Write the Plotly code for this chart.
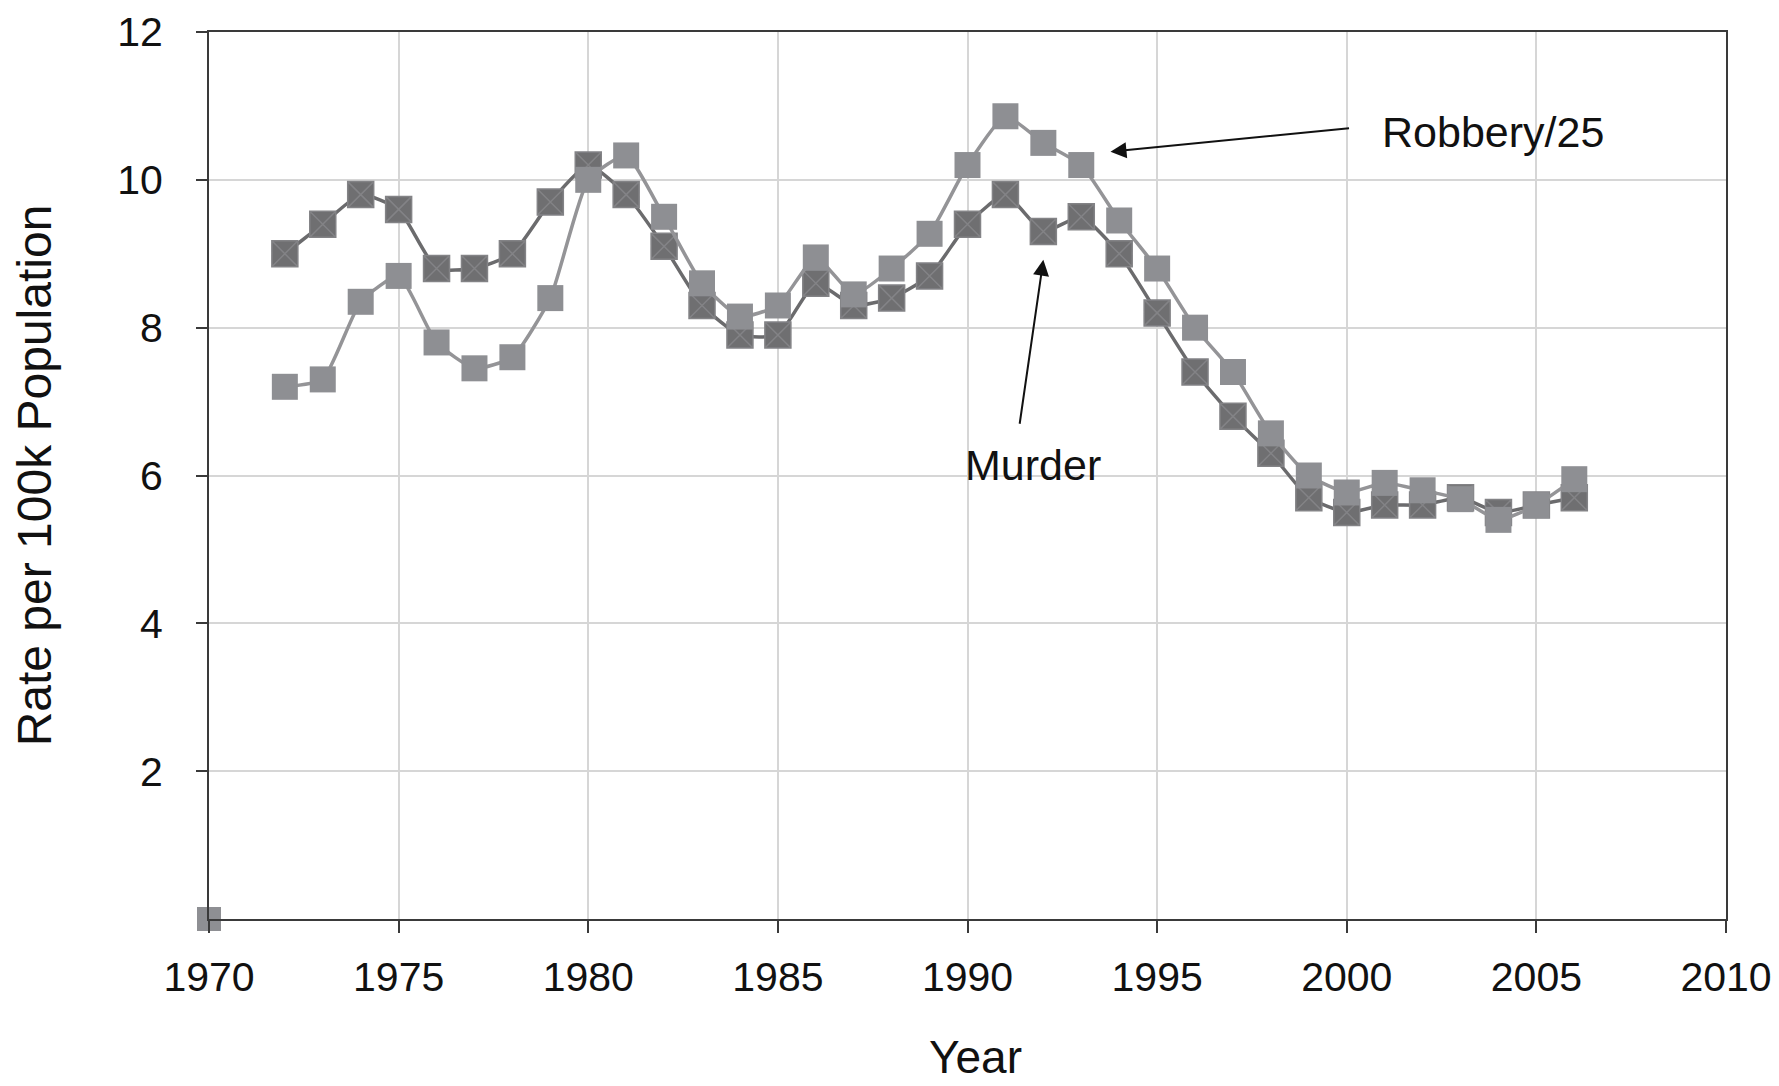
import plotly.graph_objects as go

years = list(range(1972, 2007))
murder = [9.0, 9.4, 9.8, 9.6, 8.8, 8.8, 9.0, 9.7, 10.2, 9.8,
          9.1, 8.3, 7.9, 7.9, 8.6, 8.3, 8.4, 8.7, 9.4, 9.8,
          9.3, 9.5, 9.0, 8.2, 7.4, 6.8, 6.3, 5.7, 5.5, 5.6,
          5.6, 5.7, 5.5, 5.6, 5.7]
robbery25 = [7.2, 7.3, 8.35, 8.7, 7.8, 7.45, 7.6, 8.4, 10.0, 10.33,
             9.5, 8.6, 8.15, 8.3, 8.95, 8.45, 8.8, 9.27, 10.2, 10.86,
             10.5, 10.2, 9.45, 8.8, 8.0, 7.4, 6.57, 6.0, 5.77, 5.9,
             5.8, 5.68, 5.4, 5.6, 5.95]
stray_x = [1970]
stray_y = [0]
x_ticks = [1970, 1975, 1980, 1985, 1990, 1995, 2000, 2005, 2010]
y_ticks = [2, 4, 6, 8, 10, 12]

FONT = "Liberation Sans, Arial, sans-serif"

fig = go.Figure()
fig.add_trace(go.Scatter(
    x=years, y=murder, mode="lines+markers", name="Murder",
    line=dict(color="#6b6b6d", width=3.5, shape="spline", smoothing=0.5),
    marker=dict(symbol="square-x", size=26, color="#6f6f71",
                line=dict(color="#838386", width=1.5)),
    cliponaxis=False,
))
fig.add_trace(go.Scatter(
    x=years, y=robbery25, mode="lines+markers", name="Robbery/25",
    line=dict(color="#949497", width=3.5, shape="spline", smoothing=0.5),
    marker=dict(symbol="square", size=26, color="#8e8f93", line=dict(width=0)),
    cliponaxis=False,
))
fig.add_trace(go.Scatter(
    x=stray_x, y=stray_y, mode="markers", showlegend=False,
    marker=dict(symbol="square", size=24, color="#8e8f93", line=dict(width=0)),
    cliponaxis=False,
))

fig.add_annotation(x=1993.77, y=10.38, ax=2000.1, ay=10.70, xref="x", yref="y",
                   axref="x", ayref="y", text="", showarrow=True,
                   arrowhead=2, arrowsize=1.6, arrowwidth=2, arrowcolor="#111111")
fig.add_annotation(x=1992.0, y=8.92, ax=1991.37, ay=6.68, xref="x", yref="y",
                   axref="x", ayref="y", text="", showarrow=True,
                   arrowhead=2, arrowsize=1.6, arrowwidth=2, arrowcolor="#111111")
fig.add_annotation(x=2003.85, y=10.65, xref="x", yref="y", text="Robbery/25",
                   showarrow=False, font=dict(family=FONT, size=43, color="#111111"))
fig.add_annotation(x=1991.74, y=6.14, xref="x", yref="y", text="Murder",
                   showarrow=False, font=dict(family=FONT, size=43, color="#111111"))
# x-axis title placed as an annotation so it can sit slightly right of centre
fig.add_annotation(x=1990.2, y=0, xref="x", yref="paper", yanchor="middle",
                   yshift=-138, text="Year", showarrow=False,
                   font=dict(family=FONT, size=46, color="#111111"))

fig.update_layout(
    width=1779, height=1086,
    margin=dict(l=201, r=61, t=24, b=175),
    paper_bgcolor="white", plot_bgcolor="white",
    showlegend=False,
    font=dict(family=FONT, color="#111111"),
)
fig.update_xaxes(
    range=[1970, 2010], tickvals=x_ticks, ticktext=[str(v) for v in x_ticks],
    showgrid=True, gridcolor="#d6d6d6", gridwidth=2,
    showline=True, linecolor="#3a3a3a", linewidth=2, mirror=True,
    ticks="outside", ticklen=12, tickwidth=2, tickcolor="#3a3a3a",
    tickfont=dict(size=41, family=FONT, color="#111111"),
    ticklabelstandoff=9,
    zeroline=False, automargin=False,
)
fig.update_yaxes(
    range=[0, 12], tickvals=y_ticks, ticktext=[str(v) for v in y_ticks],
    showgrid=True, gridcolor="#d6d6d6", gridwidth=2,
    showline=True, linecolor="#3a3a3a", linewidth=2, mirror=True,
    ticks="outside", ticklen=11, tickwidth=2, tickcolor="#3a3a3a",
    tickfont=dict(size=41, family=FONT, color="#111111"),
    ticklabelstandoff=25,
    title=dict(text="Rate per 100k Population", font=dict(size=48, family=FONT, color="#111111"), standoff=54),
    zeroline=False, automargin=False,
)

fig.write_html("out.html")
